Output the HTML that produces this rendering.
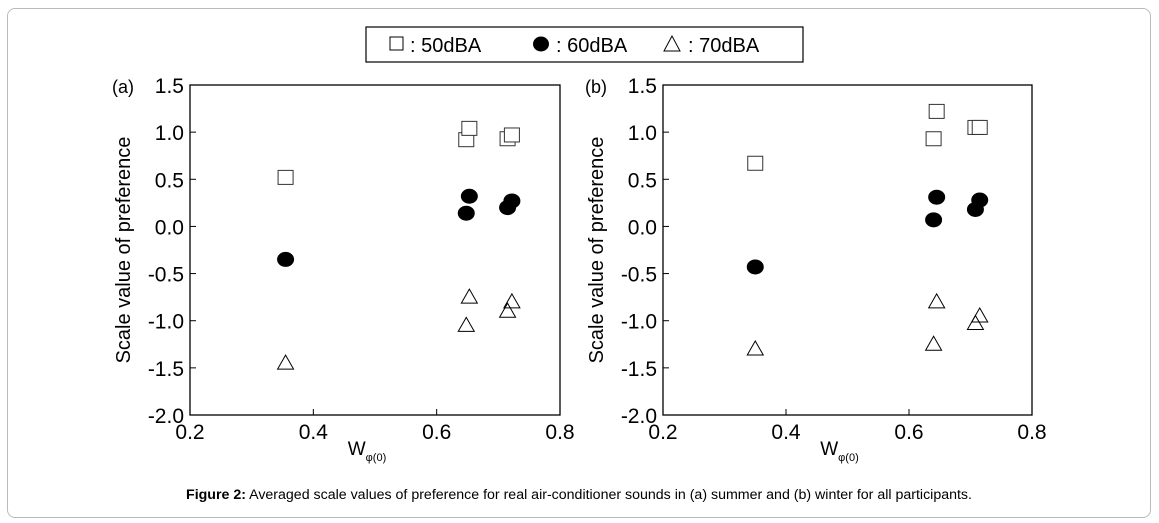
<!DOCTYPE html>
<html><head><meta charset="utf-8"><style>
body{margin:0;background:#fff;font-family:"Liberation Sans",sans-serif;}
#frame{position:absolute;left:7px;top:8px;width:1142px;height:508px;border:1px solid #bbb;border-radius:8px;}
</style></head><body>
<div id="frame"></div>
<svg id="svg" width="1159" height="523" style="position:absolute;left:0;top:0" font-family="Liberation Sans, sans-serif">
<g>
<rect x="366" y="27" width="437" height="35" fill="none" stroke="#000" stroke-width="1.2"/>
<rect x="390" y="37" width="13" height="13" fill="none" stroke="#000" stroke-width="1"/>
<text x="410" y="52" font-size="20">: 50dBA</text>
<ellipse cx="541" cy="44" rx="8" ry="7.5" fill="#000"/>
<text x="556" y="52" font-size="20">: 60dBA</text>
<polygon points="672,36 664,51 680,51" fill="none" stroke="#000" stroke-width="1"/>
<text x="688" y="52" font-size="20">: 70dBA</text>
</g>
<text x="579" y="499" font-size="14.2" text-anchor="middle"><tspan font-weight="bold">Figure 2:</tspan> Averaged scale values of preference for real air-conditioner sounds in (a) summer and (b) winter for all participants.</text>
</svg>
<script>
const xTicks=[0.2,0.4,0.6,0.8];
const yTicks=[1.5,1.0,0.5,0.0,-0.5,-1.0,-1.5,-2.0];
const xA=[0.355,0.648,0.653,0.715,0.722];
const sqA=[0.52,0.92,1.04,0.93,0.97];
const ciA=[-0.35,0.14,0.32,0.20,0.27];
const trA=[-1.45,-1.05,-0.75,-0.90,-0.80];
const xB=[0.350,0.640,0.645,0.708,0.715];
const sqB=[0.67,0.93,1.22,1.05,1.05];
const ciB=[-0.43,0.07,0.31,0.18,0.28];
const trB=[-1.30,-1.25,-0.80,-1.03,-0.95];
const NS='http://www.w3.org/2000/svg';
const svg=document.getElementById('svg');
function mk(t,a,p){const e=document.createElementNS(NS,t);for(const k in a)e.setAttribute(k,a[k]);(p||svg).appendChild(e);return e;}
function panel(L,R,label,xs,sq,ci,tr,name){
 const T=85,B=415;
 const g=mk('g',{});
 
 
 const sx=v=>L+(v-0.2)/0.6*(R-L), sy=v=>T+(1.5-v)/3.5*(B-T);
 const fr=mk('rect',{x:L,y:T,width:R-L,height:B-T,fill:'none',stroke:'#000','stroke-width':1.3},g);
 
 
 xTicks.forEach(v=>{mk('line',{x1:sx(v),x2:sx(v),y1:B,y2:B-6,stroke:'#000'},g);
  const t=mk('text',{x:sx(v),y:B+24,'font-size':21,'text-anchor':'middle'},g);t.textContent=v.toFixed(1);
  });
 yTicks.forEach(v=>{mk('line',{x1:L,x2:L+6,y1:sy(v),y2:sy(v),stroke:'#000'},g);
  const t=mk('text',{x:L-6,y:sy(v)+8,'font-size':21,'text-anchor':'end'},g);t.textContent=v.toFixed(1);
  });
 const pl=mk('text',{x:L-78,y:93,'font-size':18},g);pl.textContent=label;
 
 const yt=mk('text',{transform:`translate(${L-60},${(T+B)/2}) rotate(-90)`,'font-size':20,'text-anchor':'middle'},g);yt.textContent='Scale value of preference';
 
 const xt=mk('text',{x:(L+R)/2-8,y:B+40,'font-size':19,'text-anchor':'middle'},g);
 
 xt.innerHTML='W<tspan font-size="11" dy="6">φ(0)</tspan>';
 xs.forEach((x,i)=>{
  const s=mk('rect',{x:sx(x)-7.5,y:sy(sq[i])-7,width:15,height:14,fill:'#fff',stroke:'#333','stroke-width':1},g);
  
  const c=mk('ellipse',{cx:sx(x),cy:sy(ci[i]),rx:8.5,ry:7.5,fill:'#000'},g);
  
  const X=sx(x),Y=sy(tr[i]);
  const p=mk('polygon',{points:`${X},${Y-8} ${X-8},${Y+6} ${X+8},${Y+6}`,fill:'none',stroke:'#000','stroke-width':1},g);
  
 });
}
panel(190,560,'(a)',xA,sqA,ciA,trA,'panel-a-summer');
panel(663,1032,'(b)',xB,sqB,ciB,trB,'panel-b-winter');
</script>
</body></html>
